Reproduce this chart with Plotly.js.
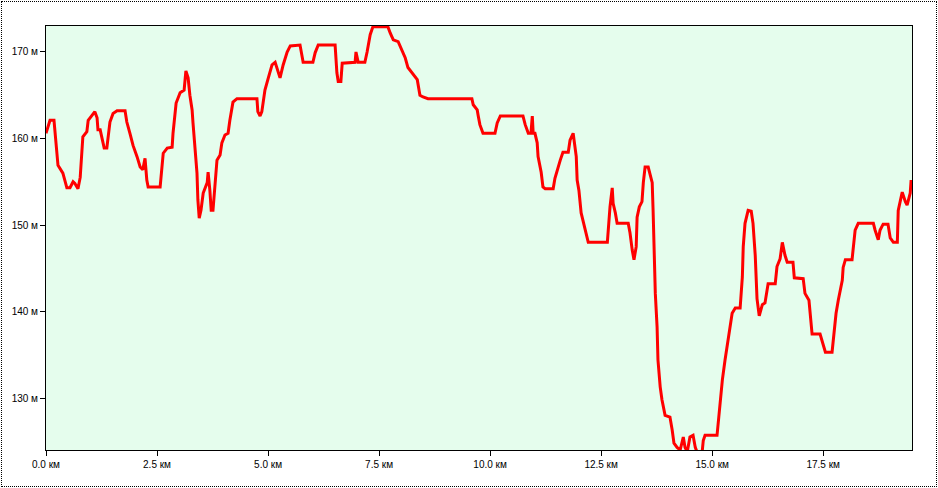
<!DOCTYPE html>
<html>
<head>
<meta charset="utf-8">
<script src="https://cdn.plot.ly/plotly-3.0.1.min.js"></script>
<style>
  html, body { margin: 0; padding: 0; background: #fff; }
  #wrap { position: relative; width: 938px; height: 488px; }
  #chart { position: absolute; left: 0; top: 0; width: 938px; height: 488px; }
  #frame { position: absolute; left: 1px; top: 1px; width: 934px; height: 484px; border: 1px dotted #000; pointer-events: none; }
</style>
</head>
<body>
<div id="wrap"><div id="chart"></div><div id="frame"></div></div>
<script>
// distance along track, km
const distanceKm = [
  0.00,0.09,0.18,0.20,0.25,0.27,0.38,0.43,0.47,0.54,0.61,0.65,0.72,0.77,0.81,0.83,0.92,0.95,1.04,1.10,
  1.15,1.17,1.22,1.26,1.31,1.37,1.40,1.44,1.51,1.60,1.78,1.82,1.89,1.96,2.05,2.12,2.18,2.23,2.27,2.30,
  2.57,2.61,2.64,2.73,2.84,2.86,2.93,3.02,3.11,3.15,3.20,3.24,3.29,3.31,3.36,3.40,3.42,3.45,3.49,3.54,
  3.63,3.65,3.69,3.72,3.76,3.81,3.85,3.92,3.96,4.03,4.10,4.14,4.21,4.30,4.75,4.77,4.82,4.86,4.89,4.93,
  5.00,5.09,5.16,5.23,5.27,5.34,5.43,5.50,5.72,5.77,5.79,6.01,6.06,6.13,6.51,6.55,6.58,6.64,6.67,6.96,
  6.98,7.03,7.18,7.23,7.30,7.36,7.70,7.75,7.82,7.93,8.02,8.09,8.15,8.24,8.36,8.42,8.49,8.60,9.59,9.62,
  9.71,9.73,9.77,9.84,10.11,10.16,10.23,10.74,10.79,10.86,10.92,10.95,10.97,11.01,11.06,11.08,11.15,11.19,11.24,11.42,
  11.46,11.58,11.64,11.76,11.80,11.87,11.94,11.96,12.00,12.05,12.12,12.21,12.64,12.66,12.70,12.75,12.77,12.82,12.86,13.11,
  13.15,13.20,13.24,13.29,13.31,13.36,13.42,13.45,13.49,13.56,13.65,13.67,13.69,13.72,13.76,13.78,13.83,13.87,13.94,14.05,
  14.10,14.14,14.21,14.28,14.35,14.39,14.44,14.50,14.57,14.62,14.68,14.77,14.80,14.84,15.11,15.14,15.18,15.23,15.29,15.36,
  15.45,15.52,15.63,15.68,15.70,15.74,15.81,15.88,15.92,15.97,15.99,16.01,16.06,16.13,16.19,16.24,16.26,16.42,16.46,16.53,
  16.58,16.64,16.69,16.82,16.85,17.05,17.09,17.18,17.23,17.25,17.43,17.48,17.55,17.70,17.73,17.79,17.84,17.93,17.95,18.00,
  18.15,18.18,18.22,18.29,18.63,18.67,18.74,18.78,18.85,18.96,19.01,19.08,19.17,19.19,19.28,19.35,19.39,19.46,19.48
];
// elevation, m
const elevationM = [
  160.6,162.1,162.1,161.0,157.9,156.9,156.0,155.2,154.3,154.3,155.0,154.8,154.2,155.5,158.3,160.2,160.8,162.1,162.7,163.1,
  162.4,161.0,161.0,160.2,158.9,158.9,160.2,161.9,162.9,163.2,163.2,161.9,160.6,159.2,157.9,156.7,156.4,157.7,155.2,154.4,
  154.4,156.4,158.3,158.9,159.0,160.6,164.1,165.3,165.6,167.8,167.0,165.0,163.3,161.8,159.0,156.0,152.9,150.8,151.7,153.7,
  154.9,156.1,154.0,151.7,151.7,155.2,157.5,158.1,159.5,160.4,160.6,162.1,164.2,164.6,164.6,163.1,162.6,163.1,164.5,165.6,
  166.9,168.5,168.8,167.5,167.0,168.5,170.0,170.7,170.8,169.4,168.8,168.8,169.9,170.8,170.8,167.6,166.6,166.6,168.7,168.8,
  170.0,168.8,168.8,170.0,172.0,172.9,172.9,172.2,171.4,171.2,170.2,169.3,168.2,167.6,166.8,165.0,164.8,164.6,164.6,163.9,
  163.3,162.7,161.6,160.6,160.6,161.8,162.6,162.6,161.6,160.6,160.6,162.6,160.6,160.6,159.5,157.9,156.1,154.4,154.2,154.2,
  155.4,157.5,158.4,158.4,159.8,160.6,157.9,155.2,154.0,151.4,149.8,148.0,148.0,149.4,152.1,154.3,152.5,151.4,150.2,150.2,
  149.1,147.1,146.0,147.5,150.9,152.1,152.7,154.9,156.7,156.7,154.9,151.7,146.0,142.1,138.2,134.4,131.3,129.8,128.0,127.8,
  126.3,124.8,124.3,124.0,125.5,124.3,123.8,125.5,125.7,124.3,123.5,123.5,125.1,125.7,125.7,127.5,129.8,132.1,134.4,136.7,
  139.8,140.4,140.4,144.0,147.5,150.2,151.7,151.6,150.2,146.5,143.3,141.5,139.5,140.8,141.0,142.7,143.2,143.2,145.2,146.1,
  148.0,146.5,145.7,145.7,143.9,143.8,142.1,141.3,139.0,137.4,137.4,136.4,135.3,135.3,136.7,139.8,141.3,143.6,145.1,146.0,
  146.0,147.5,149.4,150.2,150.2,149.4,148.3,149.4,150.1,150.1,148.5,148.0,148.0,151.7,153.8,152.7,152.3,153.7,155.2
];
const xTickVals = [0, 2.5, 5, 7.5, 10, 12.5, 15, 17.5];
const xTickText = ["0.0 км","2.5 км","5.0 км","7.5 км","10.0 км","12.5 км","15.0 км","17.5 км"];
const yTickVals = [130, 140, 150, 160, 170];
const yTickText = ["130 м","140 м","150 м","160 м","170 м"];

const trace = {
  x: distanceKm, y: elevationM, type: 'scatter', mode: 'lines',
  line: { color: '#ff0000', width: 3, shape: 'linear' },
  hoverinfo: 'x+y'
};
const fontFam = '"Liberation Sans", Arial, sans-serif';
const layout = {
  width: 938, height: 488,
  margin: { l: 46, r: 26, t: 26, b: 38, pad: 0 },
  paper_bgcolor: '#ffffff', plot_bgcolor: '#e5fded',
  showlegend: false,
  font: { family: fontFam, size: 10, color: '#000' },
  xaxis: {
    range: [0, 19.5], tickvals: xTickVals, ticktext: xTickText,
    showgrid: false, zeroline: false, showline: true, linecolor: '#000', linewidth: 1, mirror: true,
    ticks: 'outside', ticklen: 5, tickcolor: '#000', tickwidth: 1,
    tickfont: { family: fontFam, size: 10, color: '#000' }
  },
  yaxis: {
    range: [124, 173], tickvals: yTickVals, ticktext: yTickText,
    showgrid: false, zeroline: false, showline: true, linecolor: '#000', linewidth: 1, mirror: true,
    ticks: 'outside', ticklen: 5, tickcolor: '#000', tickwidth: 1,
    tickfont: { family: fontFam, size: 10, color: '#000' }
  }
};
Plotly.newPlot('chart', [trace], layout, { displayModeBar: false, staticPlot: true });
</script>
</body>
</html>
